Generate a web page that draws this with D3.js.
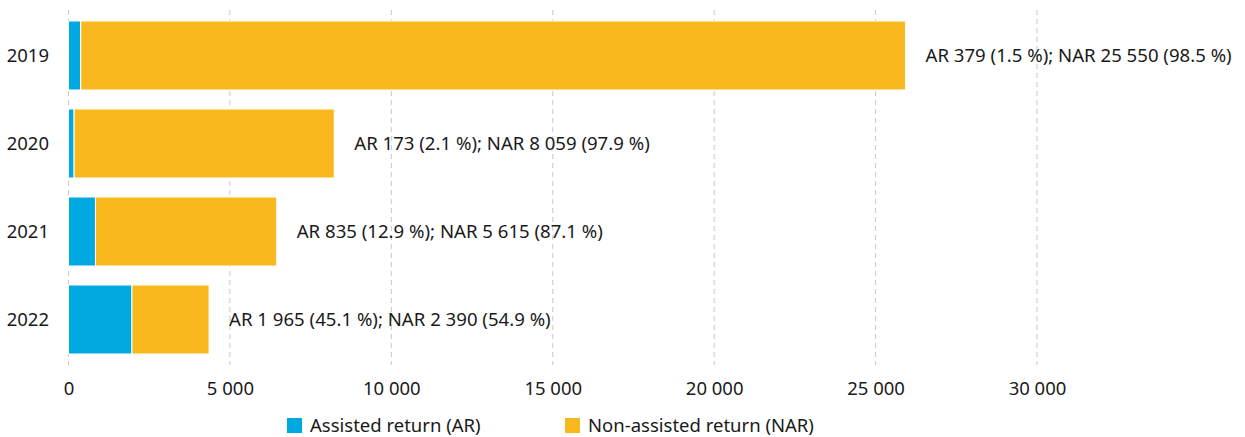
<!DOCTYPE html>
<html>
<head>
<meta charset="utf-8">
<script src="https://cdn.jsdelivr.net/npm/d3@7"></script>
<style>
body { margin: 0; background: #fff; }
text { font-family: "Noto Sans", sans-serif; fill: #1a1a1a; }
</style>
</head>
<body>
<div id="grafica"></div>
<script>
var years = ['2019', '2020', '2021', '2022'];
var ar = [379, 173, 835, 1965];
var nar = [25550, 8059, 5615, 2390];
var arPct = ['1.5', '2.1', '12.9', '45.1'];
var narPct = ['98.5', '97.9', '87.1', '54.9'];
var ticks = [0, 5000, 10000, 15000, 20000, 25000, 30000];

var azul = "#00a9e0";
var amarillo = "#f9b91e";

var svg = d3.select("#grafica")
	.append('svg')
	.attr("width", 1245)
	.attr("height", 437);

var x = d3.scaleLinear().domain([0, 30000]).range([68.5, 1037]);
var y = d3.scaleBand().domain(years).range([11.5, 363.5]).paddingInner(0.216).paddingOuter(0.108);

// numbers with a space as thousands separator
var fmt = function (v) { return d3.format(",")(v).replace(/,/g, " "); };

// dashed grid
svg.append("g").selectAll("line")
	.data(ticks)
	.enter().append("line")
	.attr("x1", function (d) { return x(d); })
	.attr("x2", function (d) { return x(d); })
	.attr("y1", 10)
	.attr("y2", 365)
	.attr("stroke", "#c8c8c8")
	.attr("stroke-width", 1)
	.attr("stroke-dasharray", "5,4");

// axis labels
var eje = svg.append("g")
	.attr("transform", "translate(0,380)")
	.call(d3.axisBottom(x).tickValues(ticks).tickSize(0).tickFormat(fmt));
eje.select(".domain").remove();
eje.selectAll("text")
	.attr("font-size", "18.5px")
	.attr("y", 15)
	.attr("dy", 0)
	.style("font-family", "Noto Sans, sans-serif")
	.attr("fill", "#1a1a1a");

for (var i = 0; i < years.length; i++) {
	var y0 = y(years[i]);
	svg.append("rect")// AR
		.attr("x", x(0))
		.attr("y", y0)
		.attr("width", x(ar[i]) - x(0))
		.attr("height", y.bandwidth())
		.attr("fill", azul)
		.attr("stroke", "#fff")
		.attr("stroke-width", 1);
	svg.append("rect")// NAR
		.attr("x", x(ar[i]))
		.attr("y", y0)
		.attr("width", x(ar[i] + nar[i]) - x(ar[i]))
		.attr("height", y.bandwidth())
		.attr("fill", amarillo)
		.attr("stroke", "#fff")
		.attr("stroke-width", 1);
	svg.append("text")// year
		.attr("x", 49)
		.attr("y", y0 + y.bandwidth() / 2 + 6.5)
		.attr("text-anchor", "end")
		.attr("font-size", "18.5px")
		.text(years[i]);
	svg.append("text")// value label
		.attr("x", x(ar[i] + nar[i]) + 20)
		.attr("y", y0 + y.bandwidth() / 2 + 6.5)
		.attr("font-size", "18.6px")
		.text("AR " + fmt(ar[i]) + " (" + arPct[i] + " %); NAR " + fmt(nar[i]) + " (" + narPct[i] + " %)");
}

// legend
var leyenda = [["Assisted return (AR)", azul, 287], ["Non-assisted return (NAR)", amarillo, 565]];
leyenda.forEach(function (l) {
	svg.append("rect")
		.attr("x", l[2])
		.attr("y", 418)
		.attr("width", 15)
		.attr("height", 15)
		.attr("fill", l[1]);
	svg.append("text")
		.attr("x", l[2] + 23)
		.attr("y", 432)
		.attr("font-size", "18.5px")
		.text(l[0]);
});
</script>
</body>
</html>
